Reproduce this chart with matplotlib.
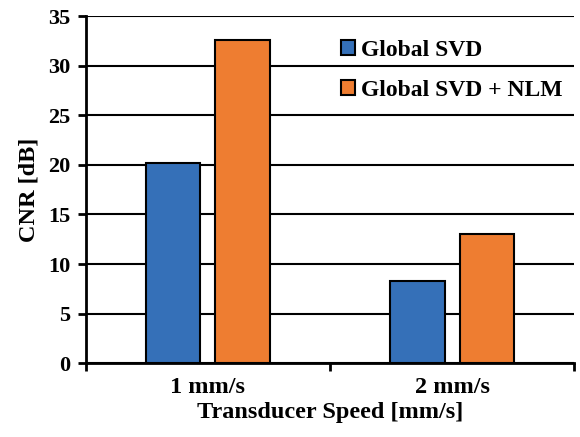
import numpy as np
import matplotlib
matplotlib.use("Agg")
import matplotlib.pyplot as plt

plt.rcParams['font.family'] = ['Liberation Serif', 'DejaVu Serif']
plt.rcParams['font.weight'] = 'bold'

categories = ["1 mm/s", "2 mm/s"]
global_svd = [20.2, 8.3]
global_svd_nlm = [32.6, 13.0]

fig = plt.figure(figsize=(5.8, 4.37), dpi=100)
ax = fig.add_axes([0.148, 0.169, 0.842, 0.794])

x = np.arange(len(categories))
w = 0.225
ax.bar(x - 0.143, global_svd, w, color="#3570b8", edgecolor="black", linewidth=1.5,
       label="Global SVD", zorder=3)
ax.bar(x + 0.143, global_svd_nlm, w, color="#ee7d31", edgecolor="black", linewidth=1.5,
       label="Global SVD + NLM", zorder=3)

ax.set_xlim(-0.5, 1.5)
ax.set_ylim(0, 35)
ax.set_yticks(np.arange(0, 36, 5))
ax.set_xticks(x)
ax.set_xticklabels(categories)
ax.set_xticks([-0.5, 0.5, 1.5], minor=True)
ax.tick_params(axis='x', which='major', length=0, pad=10, labelsize=17.5)
ax.tick_params(axis='x', which='minor', length=6, width=2, direction='out')
ax.tick_params(axis='y', length=6, width=2, labelsize=16, pad=5)
ax.yaxis.grid(True, color="black", linewidth=1.5, zorder=0)
ax.set_axisbelow(True)

for s in ['top', 'right']:
    ax.spines[s].set_visible(False)
for s in ['left', 'bottom']:
    ax.spines[s].set_linewidth(2)

ax.set_ylabel("CNR [dB]", fontsize=17.5, fontweight='bold', labelpad=6)
ax.set_xlabel("Transducer Speed [mm/s]", fontsize=17.5, fontweight='bold', labelpad=3)

ax.legend(loc="upper right", bbox_to_anchor=(1.0, 0.965), frameon=False,
          prop={'size': 17, 'weight': 'bold'}, handlelength=0.6, handleheight=0.6,
          handletextpad=0.25, labelspacing=0.8, borderaxespad=0.1)

fig.savefig("out.png", dpi=100)
